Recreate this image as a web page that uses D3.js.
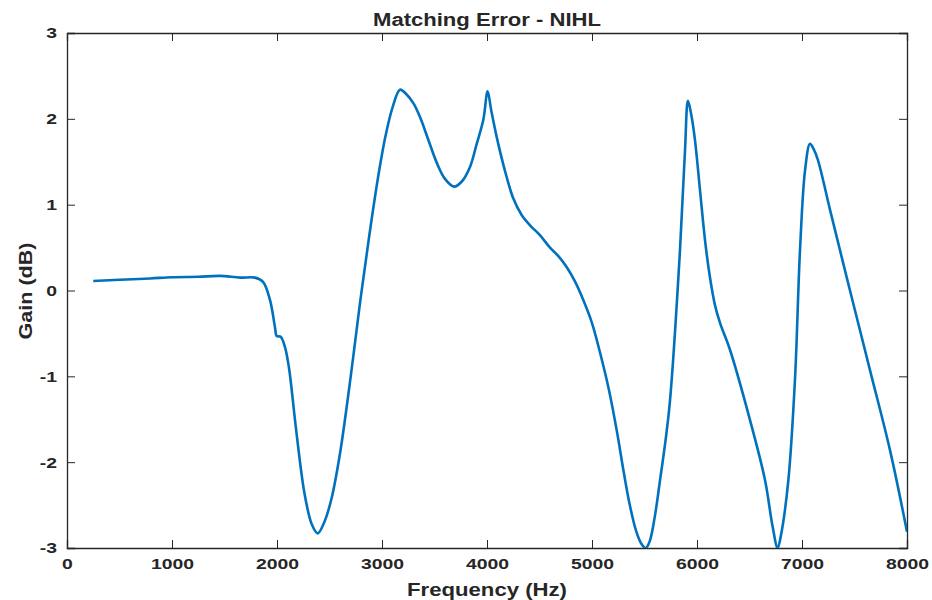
<!DOCTYPE html>
<html>
<head>
<meta charset="utf-8">
<script src="https://cdn.jsdelivr.net/npm/d3@7"></script>
<style>
  body { margin: 0; background: #fff; }
  text { font-family: "Liberation Sans", Arial, sans-serif; font-weight: bold; fill: #262626; }
</style>
</head>
<body>
<script>
// frequency (Hz) and matching error (dB)
const freq = [250, 500, 790, 1000, 1250, 1457, 1650, 1790, 1867, 1933, 1981, 1997, 2035, 2076, 2114,
  2180, 2260, 2330, 2388, 2450, 2520, 2600, 2700, 2790, 2880, 2960, 3030, 3100, 3171, 3230,
  3300, 3362, 3440, 3521, 3600, 3686, 3760, 3838, 3900, 3965, 4006, 4040, 4092, 4170, 4248, 4330,
  4410, 4500, 4600, 4680, 4760, 4840, 4920, 5000, 5080, 5160, 5240, 5300, 5360, 5420, 5470, 5511,
  5550, 5600, 5648, 5700, 5743, 5838, 5886, 5914, 5945, 5981, 6030, 6076, 6120, 6171, 6220, 6314,
  6505, 6648, 6720, 6768, 6800, 6870, 6933, 6981, 7029, 7076, 7110, 7152, 7267, 7457, 7648, 7838, 8000];
const gain = [0.11, 0.125, 0.14, 0.155, 0.16, 0.17, 0.15, 0.15, 0.10, -0.11, -0.43, -0.53, -0.54, -0.66, -0.90,
  -1.60, -2.35, -2.72, -2.83, -2.70, -2.42, -1.90, -1.02, -0.15, 0.65, 1.30, 1.78, 2.13, 2.34, 2.29,
  2.18, 2.02, 1.76, 1.49, 1.30, 1.21, 1.27, 1.44, 1.70, 1.99, 2.32, 2.10, 1.79, 1.40, 1.08, 0.88,
  0.76, 0.65, 0.50, 0.40, 0.27, 0.10, -0.12, -0.38, -0.74, -1.15, -1.66, -2.10, -2.50, -2.80, -2.95, -3.0,
  -2.92, -2.62, -2.21, -1.75, -1.28, 0.47, 1.64, 2.21, 2.05, 1.75, 1.15, 0.59, 0.18, -0.17, -0.38, -0.69,
  -1.51, -2.21, -2.75, -3.0, -2.85, -2.21, -1.04, 0.47, 1.40, 1.71, 1.65, 1.52, 0.94, 0.0, -0.93, -1.86, -2.81];
const xTicks = [0, 1000, 2000, 3000, 4000, 5000, 6000, 7000, 8000];
const yTicks = [-3, -2, -1, 0, 1, 2, 3];

const data = freq.map((f, i) => ({f: f, g: gain[i]}));

const W = 932, H = 600;
const margin = {top: 33, right: 25, bottom: 52, left: 67};
const width = W - margin.left - margin.right;
const height = H - margin.top - margin.bottom;
const wide = 1.25; // reference font is wider than Liberation Sans

const svg = d3.select("body").append("svg")
  .attr("width", W)
  .attr("height", H);

const chart = svg.append("g")
  .attr("transform", `translate(${margin.left},${margin.top})`);

const x = d3.scaleLinear().domain([0, 8000]).range([0, width]);
const y = d3.scaleLinear().domain([-3, 3]).range([height, 0]);

chart.append("clipPath").attr("id", "clip")
  .append("rect").attr("width", width).attr("height", height);

// axes, ticks pointing inward on all four sides
const tick = 8;
const fmt = d => String(d);
const axes = [
  chart.append("g").attr("transform", `translate(0,${height})`)
    .call(d3.axisBottom(x).tickValues(xTicks).tickSize(-tick).tickPadding(10).tickFormat(fmt)),
  chart.append("g")
    .call(d3.axisTop(x).tickValues(xTicks).tickSize(-tick).tickFormat("")),
  chart.append("g")
    .call(d3.axisLeft(y).tickValues(yTicks).tickSize(-tick).tickPadding(8).tickFormat(fmt)),
  chart.append("g").attr("transform", `translate(${width},0)`)
    .call(d3.axisRight(y).tickValues(yTicks).tickSize(-tick).tickFormat(""))
];
axes.forEach(a => {
  a.select(".domain").attr("stroke", "#262626").attr("stroke-width", 1.3);
  a.selectAll(".tick line").attr("stroke", "#262626").attr("stroke-width", 1);
  a.selectAll(".tick text")
    .style("font-size", "15.5px").style("font-weight", "bold").attr("fill", "#262626")
    .attr("transform", `scale(${wide},1)`);
});

const line = d3.line()
  .x(d => x(d.f))
  .y(d => y(d.g))
  .curve(d3.curveCatmullRom.alpha(0.5));

chart.append("path")
  .datum(data)
  .attr("clip-path", "url(#clip)")
  .attr("fill", "none")
  .attr("stroke", "#0072BD")
  .attr("stroke-width", 2.6)
  .attr("stroke-linejoin", "round")
  .attr("d", line);

svg.append("text")
  .attr("x", 487)
  .attr("y", 26)
  .attr("text-anchor", "middle")
  .attr("textLength", 228)
  .attr("lengthAdjust", "spacingAndGlyphs")
  .style("font-size", "17.5px")
  .text("Matching Error - NIHL");

svg.append("text")
  .attr("x", 487)
  .attr("y", 596)
  .attr("text-anchor", "middle")
  .attr("textLength", 160)
  .attr("lengthAdjust", "spacingAndGlyphs")
  .style("font-size", "17.5px")
  .text("Frequency (Hz)");

svg.append("text")
  .attr("transform", `translate(32,291) rotate(-90)`)
  .attr("text-anchor", "middle")
  .attr("textLength", 97)
  .attr("lengthAdjust", "spacingAndGlyphs")
  .style("font-size", "17.5px")
  .text("Gain (dB)");
</script>
</body>
</html>
